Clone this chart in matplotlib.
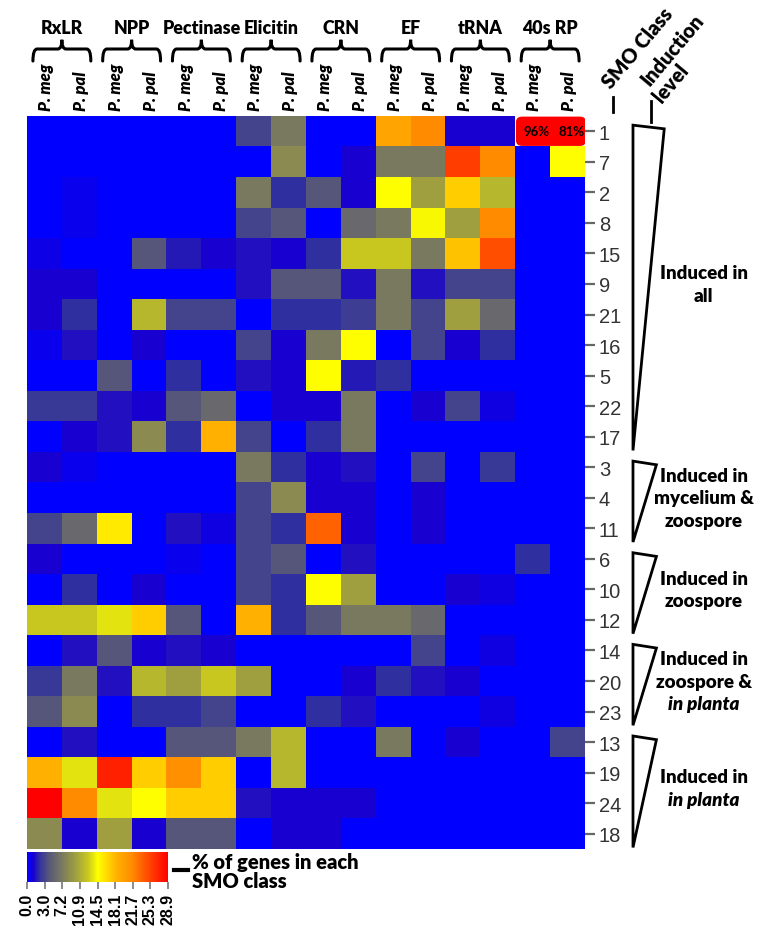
import numpy as np
import matplotlib
matplotlib.use('Agg')
import matplotlib.pyplot as plt
from matplotlib.colors import LinearSegmentedColormap
from matplotlib.patches import FancyBboxPatch, Polygon, PathPatch
from matplotlib.path import Path
from matplotlib.transforms import blended_transform_factory

# gene families (each with two species columns)
groups = ["RxLR", "NPP", "Pectinase", "Elicitin", "CRN", "EF", "tRNA", "40s RP"]
species = ["P. meg", "P. pal"]

# SMO classes, top to bottom
smo_classes = [1, 7, 2, 8, 15, 9, 21, 16, 5, 22, 17, 3, 4, 11, 6, 10, 12, 14, 20, 23, 13, 19, 24, 18]

# % of genes in each SMO class (rows = classes, cols = group x species)
pct = np.array([
    [0, 0, 0, 0, 0, 0, 3.5, 7.2, 0, 0, 19.5, 21.5, 1.3, 1.3, 96, 81],
    [0, 0, 0, 0, 0, 0, 0, 8.5, 0, 1.3, 7.2, 7.2, 25.5, 21.5, 0, 14.5],
    [0, 0.5, 0, 0, 0, 0, 7.2, 2.5, 4.5, 1.3, 14.5, 10, 17, 11.5, 0, 0],
    [0, 0.5, 0, 0, 0, 0, 3.5, 4.5, 0, 5.8, 7.2, 14.3, 10, 21.5, 0, 0],
    [0.7, 0, 0, 4.5, 2, 1.3, 1.8, 1.3, 2.5, 12.5, 12.5, 7.2, 17.5, 24.5, 0, 0],
    [1.3, 1.3, 0, 0, 0, 0, 1.8, 4.5, 4.5, 1.8, 7.2, 1.8, 3.5, 3.5, 0, 0],
    [1.3, 2.5, 0, 11.5, 3.5, 3.5, 0, 2.5, 2.5, 3.2, 7.2, 3.5, 10, 5.8, 0, 0],
    [0.5, 1.8, 0, 1.3, 0, 0, 3.5, 1.3, 7.2, 14.5, 0, 3.5, 1.3, 2.5, 0, 0],
    [0, 0, 4.5, 0, 2.5, 0, 1.8, 1.3, 14.5, 2, 2.5, 0, 0, 0, 0, 0],
    [3, 3, 1.8, 1.3, 4.5, 5.8, 0, 1.3, 1.3, 7.2, 0, 1.3, 3.5, 0.8, 0, 0],
    [0, 1.3, 1.8, 8.5, 2.5, 18.5, 3.5, 0, 2.5, 7.2, 0, 0, 0, 0, 0, 0],
    [1.3, 0.5, 0, 0, 0, 0, 7.2, 2.5, 1.3, 1.8, 0, 3.5, 0, 3, 0, 0],
    [0, 0, 0, 0, 0, 0, 3.5, 8.5, 1.3, 1.3, 0, 1.3, 0, 0, 0, 0],
    [3.5, 5.8, 15.5, 0, 1.8, 0.8, 3.5, 2.5, 23.5, 1.3, 0, 1.3, 0, 0, 0, 0],
    [1.3, 0, 0, 0, 0.5, 0, 3.5, 4.5, 0, 1.8, 0, 0, 0, 0, 2.5, 0],
    [0, 2.5, 0, 1.3, 0, 0, 3.5, 2.5, 14.5, 10, 0, 0, 1.3, 0.8, 0, 0],
    [12.5, 12.5, 13.5, 17, 4.5, 0, 18.5, 2.5, 4.5, 7.2, 7.2, 5.8, 0, 0, 0, 0],
    [0, 1.8, 4.5, 1.3, 1.8, 1.3, 0, 0, 0, 0, 0, 3.5, 0, 0.8, 0, 0],
    [3, 7.2, 1.8, 11.5, 10, 12.5, 10, 0, 0, 1.3, 2.5, 1.8, 1.3, 0, 0, 0],
    [4.5, 8.5, 0, 2.5, 2.5, 3.5, 0, 0, 2.5, 1.8, 0, 0, 0, 0.8, 0, 0],
    [0, 1.8, 0, 0, 4.5, 4.5, 7.2, 11.5, 0, 0, 7.2, 0, 1.3, 0, 0, 3.5],
    [18.5, 13.5, 27, 17, 21, 17, 0, 11.5, 0, 0, 0, 0, 0, 0, 0, 0],
    [28.9, 21.5, 13.5, 14.5, 17, 17, 1.8, 1.3, 1.3, 1.3, 0, 0, 0, 0, 0, 0],
    [8.5, 1.3, 10, 1.3, 4.5, 4.5, 0, 1.3, 1.3, 0, 0, 0, 0, 0, 0, 0],
])

cbar_labels = ["0.0", "3.0", "7.2", "10.9", "14.5", "18.1", "21.7", "25.3", "28.9"]
VMAX = 28.9

# induction level groups: (text lines with italic flag, first row, end row)
induction = [
    ([("Induced in", False), ("all", False)], 0, 11),
    ([("Induced in", False), ("mycelium &", False), ("zoospore", False)], 11, 14),
    ([("Induced in", False), ("zoospore", False)], 14, 17),
    ([("Induced in", False), ("zoospore &", False), ("in planta", True)], 17, 20),
    ([("Induced in", False), ("in planta", True)], 20, 24),
]

FONT = "Lato"
WT = "heavy"
W, H = 781, 929

# colour ramp blue -> grey -> yellow -> orange -> red
nodes = [(0, '#0000ff'), (1.3, '#1a00d0'), (2.5, '#3030a0'), (4.5, '#58587a'),
         (7.2, '#7a7a60'), (10, '#a0a040'), (12.5, '#c8c820'), (14.5, '#ffff00'),
         (18.5, '#ffb000'), (21.5, '#ff8c00'), (24.5, '#ff5000'), (28.9, '#ff0000')]
cmap = LinearSegmentedColormap.from_list('smo', [(v / VMAX, c) for v, c in nodes])
cmap.set_over('white')

fig = plt.figure(figsize=(W / 100, H / 100), dpi=100)

# overlay in pixel coords for loose annotations
ov = fig.add_axes([0, 0, 1, 1])
ov.set_xlim(0, W)
ov.set_ylim(H, 0)
ov.axis('off')

ax = fig.add_axes([27 / W, 1 - 850 / H, 558 / W, 733 / H])
im = ax.imshow(pct, cmap=cmap, vmin=0, vmax=VMAX, aspect='auto', interpolation='nearest')
for s in ax.spines.values():
    s.set_visible(False)
ax.set_xticks([])
ax.yaxis.tick_right()
ax.set_yticks(np.arange(len(smo_classes)))
ax.set_yticklabels(smo_classes, fontfamily='Liberation Sans', fontsize=14.5, color='#333333')
ax.tick_params(axis='y', length=7, width=1.6, color='#666666', pad=3)

# off-scale cells: red rounded box with value
rows, cols = np.where(pct > VMAX)
if len(rows):
    r = rows[0]
    box = FancyBboxPatch((cols.min() - 0.5 + 0.05, r - 0.5 + 0.05), cols.max() - cols.min() + 0.95, 0.9,
                         boxstyle='round,pad=0.03,rounding_size=0.18', fc='#ff0000', ec='none', zorder=3)
    ax.add_patch(box)
    for rr, cc in zip(rows, cols):
        ax.text(cc + 0.12, rr, f"{pct[rr, cc]:.0f}%", ha='center', va='center', fontsize=9.5,
                fontweight='bold', family=FONT, zorder=4)

xt = ax.get_xaxis_transform()

# species labels + group headers with braces
for i in range(pct.shape[1]):
    ax.text(i + 0.05, 1.008, species[i % 2], transform=xt, rotation=90, ha='center', va='bottom',
            fontsize=12, fontweight=WT, fontstyle='italic', family=FONT)

y_top, y_end, y_peak = 1.0914, 1.075, 1.104
for g, name in enumerate(groups):
    xc = 2 * g + 0.5
    ax.text(xc, 1.1214, name, transform=xt, ha='center', va='center', fontsize=12.8,
            fontweight=WT, family=FONT)
    x0, x1 = 2 * g - 0.5 + 0.17, 2 * g + 1.5 - 0.17
    d = 0.12
    verts = [(x0, y_end), (x0, y_top), (x0 + d, y_top), (xc - d, y_top), (xc, y_top), (xc, y_peak),
             (xc, y_top), (xc + d, y_top), (x1 - d, y_top), (x1, y_top), (x1, y_end)]
    codes = [Path.MOVETO, Path.CURVE3, Path.CURVE3, Path.LINETO, Path.CURVE3, Path.CURVE3,
             Path.CURVE3, Path.CURVE3, Path.LINETO, Path.CURVE3, Path.CURVE3]
    ax.add_patch(PathPatch(Path(verts, codes), transform=xt, fill=False, lw=2.2, ec='black',
                           clip_on=False, capstyle='round'))

# induction level wedges
yt = blended_transform_factory(ax.transAxes, ax.transData)
for k, (lines, start, end) in enumerate(induction):
    top = start - 0.5 + 0.3
    bottom = end - 0.5 - 0.05
    xr = 1.142 if k == 0 else 1.128
    tri = Polygon([(1.086, top), (xr, top + 0.12), (1.086, bottom)], closed=True, fill=False,
                  ec='black', lw=2, transform=yt, clip_on=False)
    ax.add_patch(tri)
    mid = (start + end - 1) / 2
    n = len(lines)
    for j, (txt, it) in enumerate(lines):
        ax.text(1.213, mid + (j - (n - 1) / 2) * 0.73, txt, transform=yt, ha='center', va='center',
                fontsize=13.5, fontweight=WT, fontstyle='italic' if it else 'normal', family=FONT)

# column header for the right side
ov.text(638, 48, "SMO Class", rotation=50, rotation_mode='anchor', ha='center', va='center',
        fontsize=14.5, fontweight=WT, family=FONT)
ov.text(672, 50, "Induction", rotation=50, rotation_mode='anchor', ha='center', va='center',
        fontsize=14.5, fontweight=WT, family=FONT)
ov.text(671, 83, "level", rotation=50, rotation_mode='anchor', ha='center', va='center',
        fontsize=14.5, fontweight=WT, family=FONT)
ov.plot([613, 613], [98, 113], color='black', lw=2)
ov.plot([651, 651], [102, 123], color='black', lw=2)

# colour key
cax = fig.add_axes([27 / W, 1 - 882.5 / H, 141 / W, 29.5 / H])
cb = fig.colorbar(im, cax=cax, orientation='horizontal')
cb.outline.set_visible(False)
cb.set_ticks(np.linspace(0, VMAX, len(cbar_labels)))
cb.set_ticklabels(cbar_labels)
cax.tick_params(length=5, width=1.2, color='#777777', labelsize=11.5, labelrotation=90, pad=3)
for lbl in cax.get_xticklabels():
    lbl.set_fontweight('bold')
    lbl.set_family('Liberation Sans')

ov.plot([174, 188], [871, 871], color='black', lw=3)
ov.text(192, 872, "% of genes in each\nSMO class", ha='left', va='center', fontsize=14.5,
        fontweight=WT, family=FONT, linespacing=0.95)

fig.savefig('out.png', dpi=100)
